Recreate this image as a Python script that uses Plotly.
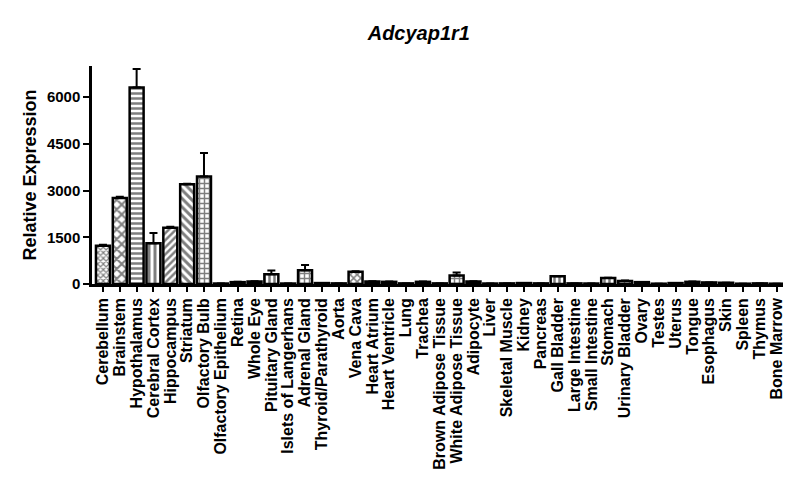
import plotly.graph_objects as go

# tissues and mean relative expression
tissues = [
    "Cerebellum", "Brainstem", "Hypothalamus", "Cerebral Cortex", "Hippocampus",
    "Striatum", "Olfactory Bulb", "Olfactory Epithelium", "Retina", "Whole Eye",
    "Pituitary Gland", "Islets of Langerhans", "Adrenal Gland", "Thyroid/Parathyroid",
    "Aorta", "Vena Cava", "Heart Atrium", "Heart Ventricle", "Lung", "Trachea",
    "Brown Adipose Tissue", "White Adipose Tissue", "Adipocyte", "Liver",
    "Skeletal Muscle", "Kidney", "Pancreas", "Gall Bladder", "Large Intestine",
    "Small Intestine", "Stomach", "Urinary Bladder", "Ovary", "Testes", "Uterus",
    "Tongue", "Esophagus", "Skin", "Spleen", "Thymus", "Bone Marrow",
]
expression = [
    1230, 2760, 6310, 1310, 1810, 3200, 3450, 15, 60, 80,
    310, 15, 440, 30, 20, 390, 80, 70, 20, 70,
    20, 270, 80, 15, 20, 30, 20, 250, 20, 15,
    190, 100, 60, 10, 30, 70, 50, 40, 10, 20, 10,
]
sem = [
    30, 40, 590, 330, 30, 20, 760, 0, 10, 10,
    120, 0, 170, 0, 0, 20, 10, 10, 0, 10,
    0, 100, 10, 0, 0, 0, 0, 10, 0, 0,
    10, 10, 0, 0, 0, 10, 0, 0, 0, 0, 0,
]
y_ticks = [0, 1500, 3000, 4500, 6000]

# fill patterns, GraphPad-style
shapes = ["x", "x", "-", "|", "/", "\\", "+", "", "", "",
          "|", "", "+", "", "", "x", "", "", "", "",
          "", "+", "", "", "", "", "", "|", "", "",
          "|", "+", "", "", "", "", "", "", "", "", ""]
sizes = [4, 7, 5, 6, 5, 6, 5] + [5] * 34

font = "Liberation Sans, Arial, sans-serif"

fig = go.Figure(go.Bar(
    x=tissues,
    y=expression,
    marker=dict(
        color="white",
        line=dict(color="black", width=2.5),
        pattern=dict(shape=shapes, size=sizes, solidity=0.5,
                     fgcolor="black", bgcolor="white"),
    ),
    error_y=dict(type="data", array=sem, arrayminus=[0] * len(sem),
                 symmetric=False, color="black", thickness=2, width=4),
))

fig.update_layout(
    width=800, height=488,
    margin=dict(l=84, r=25, t=58, b=212),
    plot_bgcolor="white", paper_bgcolor="white",
    bargap=0.17,
    showlegend=False,
    font=dict(family=font, color="black", size=15),
    title=dict(text="<b><i>Adcyap1r1</i></b>", font=dict(size=20),
               x=0.473, xref="paper", xanchor="center", y=0.949, yanchor="middle"),
)
fig.update_xaxes(
    range=[-0.65, len(tissues) - 0.62],
    showline=True, linecolor="black", linewidth=2.5,
    ticks="outside", ticklen=5, tickwidth=2, tickcolor="black",
    tickangle=-90, tickfont=dict(size=16, family=font),
    tickvals=tissues, ticktext=["<b>%s</b>" % t for t in tissues],
    showgrid=False,
)
fig.update_yaxes(
    range=[0, 7000],
    showline=True, linecolor="black", linewidth=2.5,
    ticks="outside", ticklen=6, tickwidth=2, tickcolor="black",
    tickvals=y_ticks, ticktext=["<b>%d</b>" % v for v in y_ticks],
    tickfont=dict(size=15),
    showgrid=False, zeroline=False,
    title=dict(text="<b>Relative Expression</b>", font=dict(size=18), standoff=6),
)

fig.write_html("out.html")
